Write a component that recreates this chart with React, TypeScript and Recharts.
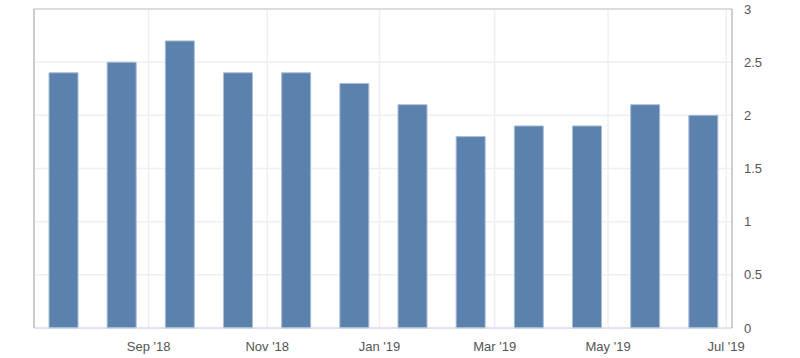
import React from 'react'
import { BarChart, Bar, XAxis, YAxis, CartesianGrid, ReferenceLine } from 'recharts'

const months = ["Jul '18", "Aug '18", "Sep '18", "Oct '18", "Nov '18", "Dec '18", "Jan '19", "Feb '19", "Mar '19", "Apr '19", "May '19", "Jun '19"]
const values = [2.4, 2.5, 2.7, 2.4, 2.4, 2.3, 2.1, 1.8, 1.9, 1.9, 2.1, 2.0]

// month-start ticks, in bar-index units
const tickPos = [1.47, 3.51, 5.44, 7.42, 9.37, 11.4]
const tickLabels = ["Sep '18", "Nov '18", "Jan '19", "Mar '19", "May '19", "Jul '19"]
const yTicks = [0, 0.5, 1, 1.5, 2, 2.5, 3]

const data = values.map((v, i) => ({ idx: i, month: months[i], value: v }))

const font = { fontFamily: 'Liberation Sans, Arial, sans-serif', fontSize: 13, fill: '#555' }

export default function App() {
  return (
    <div style={{ position: 'absolute', left: 0, top: 0 }}>
      <BarChart width={800} height={358} data={data} margin={{ top: 9, right: 0, bottom: 0, left: 34 }}>
        <CartesianGrid stroke="#efefef" strokeWidth={1.5} />
        <XAxis
          dataKey="idx"
          type="number"
          domain={[-0.5, 11.5]}
          ticks={tickPos}
          tickFormatter={(v: number) => tickLabels[tickPos.indexOf(v)] ?? ''}
          height={30}
          tickLine={false}
          axisLine={{ stroke: '#ccd6eb' }}
          tick={font}
          tickMargin={8}
          allowDataOverflow
        />
        <YAxis
          orientation="right"
          width={68}
          domain={[0, 3]}
          ticks={yTicks}
          tickLine={false}
          axisLine={{ stroke: '#aaa' }}
          tick={{ ...font, textAnchor: 'start' }}
          tickMargin={6}
        />
        <ReferenceLine y={3} stroke="#dcdcdc" strokeWidth={2} />
        <ReferenceLine x={-0.5} stroke="#ccc" strokeWidth={2} />
        <Bar dataKey="value" fill="#5b82ad" stroke="#a9bdd6" strokeWidth={1} barSize={29} isAnimationActive={false} />
      </BarChart>
    </div>
  )
}
